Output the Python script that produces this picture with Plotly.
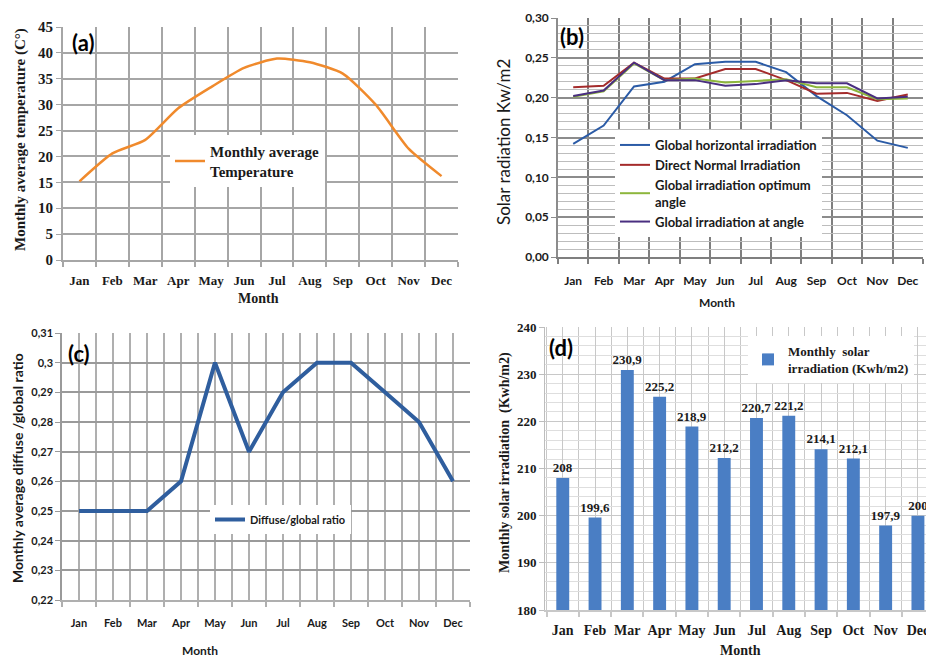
import plotly.graph_objects as go

W, H = 926, 657

MONTHS = ["Jan", "Feb", "Mar", "Apr", "May", "Jun", "Jul", "Aug", "Sep", "Oct", "Nov", "Dec"]
X = list(range(len(MONTHS)))

TEMP = [15.2, 20.6, 23.2, 29.3, 33.4, 37.1, 38.9, 38.2, 36.0, 30.0, 21.5, 16.2]

GHI = [0.142, 0.165, 0.214, 0.220, 0.242, 0.245, 0.245, 0.232, 0.202, 0.178, 0.146, 0.137]
DNI = [0.213, 0.215, 0.244, 0.224, 0.224, 0.236, 0.236, 0.222, 0.205, 0.206, 0.196, 0.204]
OPT = [0.201, 0.208, 0.243, 0.222, 0.224, 0.219, 0.221, 0.223, 0.213, 0.213, 0.198, 0.199]
ANG = [0.202, 0.209, 0.244, 0.222, 0.222, 0.215, 0.217, 0.222, 0.218, 0.218, 0.199, 0.201]

RATIO = [0.25, 0.25, 0.25, 0.26, 0.30, 0.27, 0.29, 0.30, 0.30, 0.29, 0.28, 0.26]

IRR = [208, 199.6, 230.9, 225.2, 218.9, 212.2, 220.7, 221.2, 214.1, 212.1, 197.9, 200]
IRR_TEXT = [f"{v:g}".replace(".", ",") for v in IRR]

SERIF = "Liberation Serif"
SANS = "Lato"
TXT = "#1a1a1a"


def px_x(a, b):
    return [a / W, b / W]


def px_y(top, bottom):
    return [1 - bottom / H, 1 - top / H]


fig = go.Figure()

# (a)
fig.add_trace(go.Scatter(x=X, y=TEMP, mode="lines", line=dict(color="#F08A2C", width=2.5, shape="spline", smoothing=0.6),
                         name="Monthly average<br>Temperature", xaxis="x", yaxis="y", legend="legend"))
# (b)
fig.add_trace(go.Scatter(x=X, y=GHI, mode="lines", line=dict(color="#2B5BA6", width=2), name="Global horizontal irradiation",
                         xaxis="x2", yaxis="y2", legend="legend2"))
fig.add_trace(go.Scatter(x=X, y=DNI, mode="lines", line=dict(color="#A42B2B", width=2), name="Direct Normal Irradiation",
                         xaxis="x2", yaxis="y2", legend="legend2"))
fig.add_trace(go.Scatter(x=X, y=OPT, mode="lines", line=dict(color="#8DB63C", width=2), name="Global irradiation optimum<br>angle",
                         xaxis="x2", yaxis="y2", legend="legend2"))
fig.add_trace(go.Scatter(x=X, y=ANG, mode="lines", line=dict(color="#4A2F80", width=2), name="Global irradiation at angle",
                         xaxis="x2", yaxis="y2", legend="legend2"))
# (c)
fig.add_trace(go.Scatter(x=X, y=RATIO, mode="lines", line=dict(color="#2F5E9E", width=4), name="Diffuse/global ratio",
                         xaxis="x3", yaxis="y3", legend="legend3"))
# (d)
fig.add_trace(go.Bar(x=X, y=IRR, width=0.4, marker=dict(color="#4A7EC4", line=dict(width=0)),
                     name="Monthly  solar<br>irradiation (Kwh/m2)",
                     text=IRR_TEXT, textposition="outside", cliponaxis=True, constraintext="none",
                     textfont=dict(family=SERIF, size=13, color=TXT, weight="bold"),
                     xaxis="x4", yaxis="y4", legend="legend4"))


def xaxis(domain, anchor, rng, font, gridc, gridw, centers=False, centerc=None, standoff=6):
    minor = dict(tickmode="linear", tick0=-0.5, dtick=1, showgrid=True, gridcolor=gridc, gridwidth=gridw,
                 ticks="outside", ticklen=5, tickcolor=gridc, tickwidth=1.5)
    return dict(domain=domain, anchor=anchor, range=rng, tickmode="array", tickvals=X, ticktext=MONTHS,
                showgrid=centers, gridcolor=centerc or gridc, gridwidth=gridw, ticks="", showline=True,
                linecolor=gridc, linewidth=1.5, zeroline=False, tickfont=font, minor=minor,
                ticklabelstandoff=standoff, fixedrange=True, automargin=False, ticklabeloverflow="allow")


fa_tick = dict(family=SERIF, size=15, color=TXT, weight="bold")
fa_x = dict(family=SERIF, size=13, color=TXT, weight="bold")
fb = dict(family=SANS, size=12, color=TXT, weight="bold")
fc = dict(family=SANS, size=11, color=TXT, weight="bold")
fd = dict(family=SERIF, size=13, color=TXT, weight="bold")
fd_x = dict(family=SERIF, size=14, color=TXT, weight="bold")

layout = dict(
    width=W, height=H, margin=dict(l=0, r=0, t=0, b=0, autoexpand=False), paper_bgcolor="white", plot_bgcolor="white",
    separators=",.", showlegend=True,
    xaxis=xaxis(px_x(63, 458), "y", [-0.5, 11.5], fa_x, "#A6A6A6", 2, standoff=8),
    yaxis=dict(domain=px_y(27, 260), anchor="x", range=[0, 45], dtick=5, showgrid=True, gridcolor="#A6A6A6", gridwidth=2,
               showline=True, linecolor="#A6A6A6", linewidth=2, ticks="outside", ticklen=5, tickcolor="#A6A6A6",
               zeroline=False, tickfont=fa_tick, fixedrange=True, automargin=False),
    xaxis2=xaxis(px_x(558, 923), "y2", [-0.5, 11.5], fb, "#7F7F7F", 1.5, standoff=12),
    yaxis2=dict(domain=px_y(18, 257), anchor="x2", range=[0, 0.30], dtick=0.05, tickformat=".2f", showgrid=True,
                gridcolor="#8C8C8C", gridwidth=1.5, showline=True, linecolor="#8C8C8C", linewidth=1.5, ticks="outside",
                ticklen=5, tickcolor="#8C8C8C", zeroline=False, tickfont=fb, fixedrange=True, automargin=False,
                minor=dict(dtick=0.01, showgrid=True, gridcolor="#BDBDBD", gridwidth=1)),
    xaxis3=xaxis(px_x(62, 470), "y3", [-0.5, 11.5], fc, "#AFAFAF", 1.5, centers=True, standoff=12),
    yaxis3=dict(domain=px_y(333, 600), anchor="x3", range=[0.22, 0.31], dtick=0.01, showgrid=True,
                gridcolor="#9A9A9A", gridwidth=2, showline=True, linecolor="#9A9A9A", linewidth=1.5, ticks="outside",
                ticklen=5, tickcolor="#9A9A9A", zeroline=False, tickfont=fc, fixedrange=True, automargin=False),
    xaxis4=xaxis(px_x(545, 926), "y4", [-0.55, 11.25], fd_x, "#C8C8C8", 1, centers=True, standoff=6),
    yaxis4=dict(domain=px_y(327, 610), anchor="x4", range=[180, 240], dtick=10, showgrid=True,
                gridcolor="#C8C8C8", gridwidth=1, showline=True, linecolor="#BDBDBD", linewidth=1, ticks="outside",
                ticklen=5, tickcolor="#BDBDBD", zeroline=False, tickfont=fd, fixedrange=True, automargin=False,
                minor=dict(dtick=2, showgrid=True, gridcolor="#DEDEDE", gridwidth=1)),
    legend=dict(x=170 / W, y=1 - 135 / H, xanchor="left", yanchor="top", bgcolor="white", borderwidth=0,
                font=dict(family=SERIF, size=15, color=TXT, weight="bold"), itemwidth=30,
                tracegroupgap=0),
    legend2=dict(x=615 / W, y=1 - 130 / H, xanchor="left", yanchor="top", bgcolor="white", borderwidth=0,
                 font=dict(family=SANS, size=13, color=TXT, weight="bold"), itemwidth=30, tracegroupgap=0),
    legend3=dict(x=210 / W, y=1 - 505 / H, xanchor="left", yanchor="top", bgcolor="white", borderwidth=0,
                 font=dict(family=SANS, size=11, color=TXT, weight="bold"), itemwidth=30),
    legend4=dict(x=748 / W, y=1 - 336 / H, xanchor="left", yanchor="top", bgcolor="white", borderwidth=0,
                 font=dict(family=SERIF, size=13, color=TXT, weight="bold"), itemwidth=30),
)
fig.update_layout(**layout)

ann = []


def add_text(text, x, y, font, angle=0, xanchor="center"):
    ann.append(dict(text=text, x=x / W, y=1 - y / H, xref="paper", yref="paper", showarrow=False,
                    font=font, textangle=angle, xanchor=xanchor, yanchor="middle"))


lab_font = dict(family=SANS, size=22, color="black", weight="bold")
add_text("(a)", 70, 43, lab_font, xanchor="left")
add_text("(b)", 558, 36, lab_font, xanchor="left")
add_text("(c)", 66, 353, lab_font, xanchor="left")
add_text("(d)", 547, 347, lab_font, xanchor="left")

add_text("Monthly average temperature (C°)", 20, 140, dict(family=SERIF, size=15, color=TXT, weight="bold"), angle=-90)
add_text("Month", 258, 298, dict(family=SERIF, size=14, color=TXT, weight="bold"))
add_text("Solar radiation Kw/m2", 503, 142, dict(family=SANS, size=17, color=TXT), angle=-90)
add_text("Month", 717, 303, dict(family=SANS, size=12, color=TXT, weight="bold"))
add_text("Monthly average diffuse /global ratio", 17, 468, dict(family=SANS, size=14, color=TXT, weight="bold"), angle=-90)
add_text("Month", 200, 650, dict(family=SANS, size=12, color=TXT, weight="bold"))
add_text("Monthly solar irradiation  (Kwh/m2)", 505, 463, dict(family=SERIF, size=14, color=TXT, weight="bold"), angle=-90)
add_text("Month", 740, 650, dict(family=SERIF, size=14, color=TXT, weight="bold"))

fig.update_layout(annotations=ann)
fig.write_html("out.html")
